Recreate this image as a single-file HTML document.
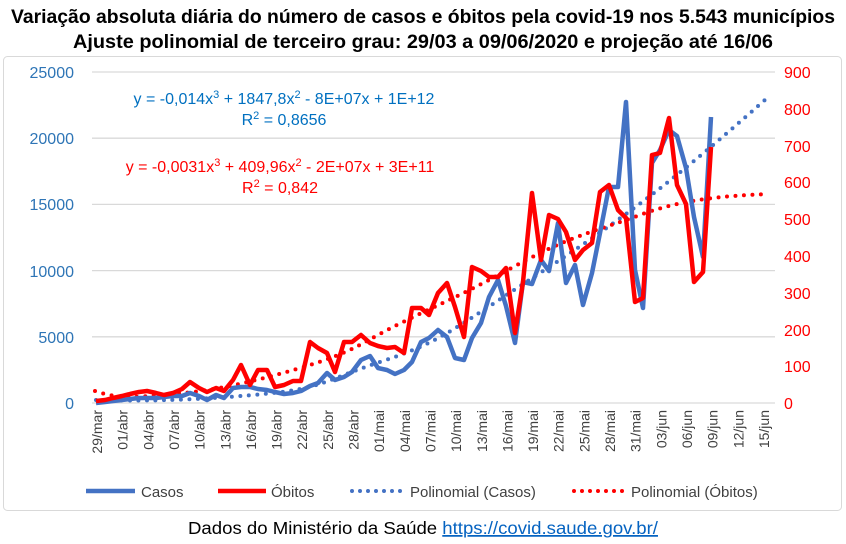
<!DOCTYPE html>
<html><head><meta charset="utf-8"><style>
body{margin:0;background:#fff;}
svg{display:block;font-family:"Liberation Sans",sans-serif;}
</style></head><body>
<svg width="846" height="544" viewBox="0 0 846 544" xmlns="http://www.w3.org/2000/svg">
<rect x="0" y="0" width="846" height="544" fill="#fff"/>
<rect x="3.5" y="56.5" width="838" height="454" rx="4" fill="none" stroke="#d9d9d9"/>
<text x="423" y="23" text-anchor="middle" font-size="19" font-weight="bold" fill="#000" textLength="824" lengthAdjust="spacingAndGlyphs">Variação absoluta diária do número de casos e óbitos pela covid-19 nos 5.543 municípios</text>
<text x="423" y="48" text-anchor="middle" font-size="19" font-weight="bold" fill="#000" textLength="700" lengthAdjust="spacingAndGlyphs">Ajuste polinomial de terceiro grau: 29/03 a 09/06/2020 e projeção até 16/06</text>
<g stroke="#d9d9d9" stroke-width="1.3">
<line x1="92" x2="775" y1="72" y2="72"/><line x1="92" x2="775" y1="138.2" y2="138.2"/><line x1="92" x2="775" y1="204.4" y2="204.4"/><line x1="92" x2="775" y1="270.6" y2="270.6"/><line x1="92" x2="775" y1="336.8" y2="336.8"/><line x1="92" x2="775" y1="403" y2="403"/>
</g>
<g font-size="16" fill="#2e75b6" text-anchor="end">
<text x="74" y="78">25000</text><text x="74" y="144">20000</text><text x="74" y="210">15000</text><text x="74" y="277">10000</text><text x="74" y="343">5000</text><text x="74" y="409">0</text>
</g>
<g font-size="16" fill="#ff0000" text-anchor="start">
<text x="784" y="78">900</text><text x="784" y="115">800</text><text x="784" y="152">700</text><text x="784" y="188">600</text><text x="784" y="225">500</text><text x="784" y="262">400</text><text x="784" y="299">300</text><text x="784" y="336">200</text><text x="784" y="372">100</text><text x="784" y="409">0</text>
</g>
<g font-size="14" fill="#404040" text-anchor="end">
<text transform="translate(102,410) rotate(-90)">29/mar</text>
<text transform="translate(127.7,410) rotate(-90)">01/abr</text>
<text transform="translate(153.3,410) rotate(-90)">04/abr</text>
<text transform="translate(179,410) rotate(-90)">07/abr</text>
<text transform="translate(204.6,410) rotate(-90)">10/abr</text>
<text transform="translate(230.3,410) rotate(-90)">13/abr</text>
<text transform="translate(255.9,410) rotate(-90)">16/abr</text>
<text transform="translate(281.6,410) rotate(-90)">19/abr</text>
<text transform="translate(307.2,410) rotate(-90)">22/abr</text>
<text transform="translate(332.9,410) rotate(-90)">25/abr</text>
<text transform="translate(358.5,410) rotate(-90)">28/abr</text>
<text transform="translate(384.2,410) rotate(-90)">01/mai</text>
<text transform="translate(409.8,410) rotate(-90)">04/mai</text>
<text transform="translate(435.5,410) rotate(-90)">07/mai</text>
<text transform="translate(461.1,410) rotate(-90)">10/mai</text>
<text transform="translate(486.8,410) rotate(-90)">13/mai</text>
<text transform="translate(512.4,410) rotate(-90)">16/mai</text>
<text transform="translate(538.1,410) rotate(-90)">19/mai</text>
<text transform="translate(563.7,410) rotate(-90)">22/mai</text>
<text transform="translate(589.4,410) rotate(-90)">25/mai</text>
<text transform="translate(615,410) rotate(-90)">28/mai</text>
<text transform="translate(640.7,410) rotate(-90)">31/mai</text>
<text transform="translate(666.3,410) rotate(-90)">03/jun</text>
<text transform="translate(692,410) rotate(-90)">06/jun</text>
<text transform="translate(717.6,410) rotate(-90)">09/jun</text>
<text transform="translate(743.3,410) rotate(-90)">12/jun</text>
<text transform="translate(768.9,410) rotate(-90)">15/jun</text>
</g>
<path d="M96,400 C140,401 183,401 253,395 S320,382 380,362 S448,333 540,273 S680,175 766,99" fill="none" stroke="#4472c4" stroke-width="4" stroke-linecap="round" stroke-dasharray="0 8.5"/>
<path d="M95,391 C110,396 120,397 130,397 S160,395 183,393 S243,385 300,368 S360,343 403,322 S460,296 517,265 S600,230 640,215 S720,196 768,194" fill="none" stroke="#ff0000" stroke-width="4" stroke-linecap="round" stroke-dasharray="0 8.5"/>
<polyline fill="none" stroke="#4472c4" stroke-width="4.5" stroke-linejoin="round" points="96,403 105,402 113,401 122,400 130,399 139,398 147,398 156,398 164,397 173,396 182,396 190,393 199,396 207,400 216,395 224,398 233,388 241,387 250,387 258,389 267,390 275,392 284,394 293,393 301,391 310,386 318,383 327,373 335,380 344,377 352,372 361,360 370,356 378,368 387,370 395,374 404,370 412,362 421,342 429,338 438,330 447,337 455,358 464,360 472,338 481,323 489,297 498,280 506,306 515,343 523,282 532,284 541,260 549,271 558,223 566,283 575,265 583,305 592,273 600,233 609,187 618,187 626,102 635,270 643,308 652,163 660,150 669,130 677,136 686,168 694,217 703,257 711,117"/>
<polyline fill="none" stroke="#ff0000" stroke-width="4.5" stroke-linejoin="round" points="96,401 105,400 113,398 122,396 130,394 139,392 147,391 156,393 164,395 173,393 182,389 190,382 199,388 207,392 216,388 224,391 233,380 241,365 250,385 258,370 267,370 275,387 284,385 293,381 301,381 310,342 318,348 327,353 335,372 344,342 352,342 361,335 370,343 378,346 387,348 395,347 404,353 412,308 421,308 429,315 438,293 447,283 455,307 464,337 472,267 481,271 489,277 498,277 506,268 515,333 523,282 532,193 541,260 549,215 558,219 566,232 575,260 583,250 592,243 600,192 609,185 618,210 626,218 635,302 643,298 652,155 660,153 669,118 677,185 686,204 694,282 703,272 711,147"/>
<text x="284" y="104" text-anchor="middle" font-size="16" fill="#0070c0">y = -0,014x<tspan font-size="11" dy="-6">3</tspan><tspan dy="6"> + 1847,8x</tspan><tspan font-size="11" dy="-6">2</tspan><tspan dy="6"> - 8E+07x + 1E+12</tspan></text>
<text x="284" y="125" text-anchor="middle" font-size="16" fill="#0070c0">R<tspan font-size="11" dy="-6">2</tspan><tspan dy="6"> = 0,8656</tspan></text>
<text x="280" y="172" text-anchor="middle" font-size="16" fill="#ff0000">y = -0,0031x<tspan font-size="11" dy="-6">3</tspan><tspan dy="6"> + 409,96x</tspan><tspan font-size="11" dy="-6">2</tspan><tspan dy="6"> - 2E+07x + 3E+11</tspan></text>
<text x="280" y="193" text-anchor="middle" font-size="16" fill="#ff0000">R<tspan font-size="11" dy="-6">2</tspan><tspan dy="6"> = 0,842</tspan></text>
<line x1="86" x2="135" y1="491" y2="491" stroke="#4472c4" stroke-width="4.5"/>
<text x="141" y="497" font-size="15" fill="#404040">Casos</text>
<line x1="218" x2="266" y1="491" y2="491" stroke="#ff0000" stroke-width="4.5"/>
<text x="271" y="497" font-size="15" fill="#404040">Óbitos</text>
<line x1="352" x2="404" y1="491" y2="491" stroke="#4472c4" stroke-width="4" stroke-linecap="round" stroke-dasharray="0 8"/>
<text x="410" y="497" font-size="15" fill="#404040">Polinomial (Casos)</text>
<line x1="574" x2="626" y1="491" y2="491" stroke="#ff0000" stroke-width="4" stroke-linecap="round" stroke-dasharray="0 8"/>
<text x="631" y="497" font-size="15" fill="#404040">Polinomial (Óbitos)</text>
<text x="423" y="534" text-anchor="middle" font-size="17.5" fill="#000" textLength="470" lengthAdjust="spacingAndGlyphs">Dados do Ministério da Saúde <tspan fill="#0563c1" text-decoration="underline">https://covid.saude.gov.br/</tspan></text>
</svg>
</body></html>
